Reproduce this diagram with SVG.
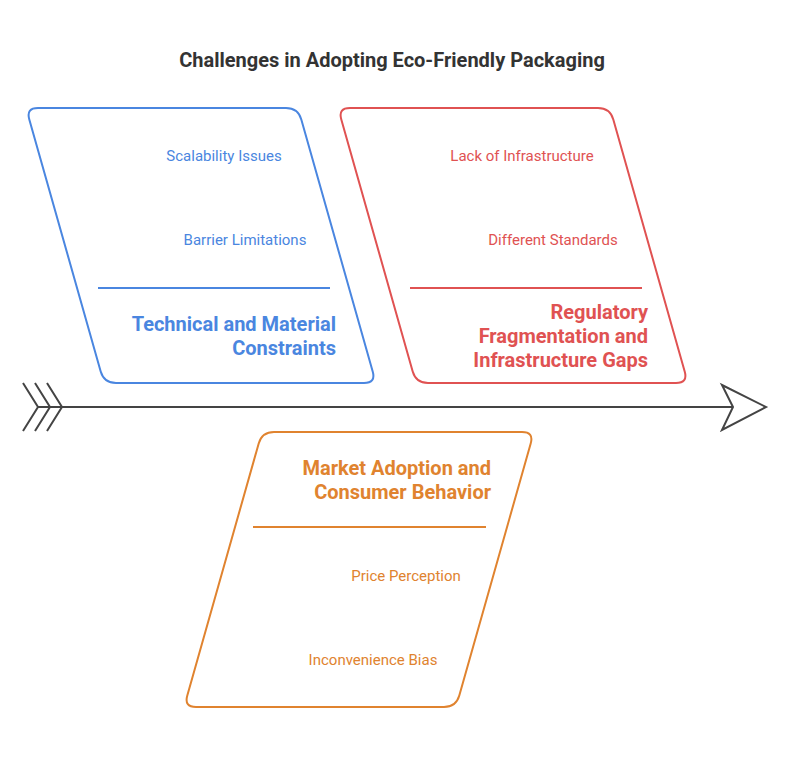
<svg xmlns="http://www.w3.org/2000/svg" width="790" height="757" viewBox="0 0 790 757">
<style>
.t{font-family:Roboto,"Liberation Sans",sans-serif}
.title{font-size:20px;font-weight:bold;fill:#333}
.h{font-size:20px;font-weight:bold;text-anchor:end}
.s{font-size:15px;text-anchor:middle}
.box{fill:#fff;stroke-width:2}
.blue{fill:#4a86e0}.red{fill:#e05252}.orange{fill:#e0832f}
</style>
<rect width="790" height="757" fill="#fff"/>
<text class="t title" x="392" y="67" text-anchor="middle">Challenges in Adopting Eco-Friendly Packaging</text>
<g id="connectors" stroke="#444" stroke-width="2" fill="none">
<line x1="38" y1="407" x2="733" y2="407"/>
<polyline points="23,383 38,407 23,431"/>
<polyline points="35,383 50,407 35,431"/>
<polyline points="47,383 62,407 47,431"/>
<polygon points="722,385 766,407 722,430 733,407" fill="#fff"/>
</g>
<g id="technical">
<path class="box" stroke="#4a86e0" d="M 38,108 L 286,108 Q 298,108 301.3,119.5 L 372.7,371.5 Q 376,383 364,383 L 116,383 Q 104,383 100.7,371.5 L 29.3,119.5 Q 26,108 38,108 Z"/>
<line x1="98" y1="288" x2="330" y2="288" stroke="#4a86e0" stroke-width="2"/>
<text class="t s blue" x="224" y="161">Scalability Issues</text>
<text class="t s blue" x="245" y="245">Barrier Limitations</text>
<text class="t h blue" x="336" y="331">Technical and Material</text>
<text class="t h blue" x="336" y="355">Constraints</text>
</g>
<g id="regulatory">
<path class="box" stroke="#e05252" d="M 350,108 L 598,108 Q 610,108 613.3,119.5 L 684.7,371.5 Q 688,383 676,383 L 428,383 Q 416,383 412.7,371.5 L 341.3,119.5 Q 338,108 350,108 Z"/>
<line x1="410" y1="288" x2="642" y2="288" stroke="#e05252" stroke-width="2"/>
<text class="t s red" x="522" y="161">Lack of Infrastructure</text>
<text class="t s red" x="553" y="245">Different Standards</text>
<text class="t h red" x="648" y="319">Regulatory</text>
<text class="t h red" x="648" y="343">Fragmentation and</text>
<text class="t h red" x="648" y="367">Infrastructure Gaps</text>
</g>
<g id="market">
<path class="box" stroke="#e0832f" d="M 274,432 L 522,432 Q 534,432 530.7,443.5 L 459.3,695.5 Q 456,707 444,707 L 196,707 Q 184,707 187.3,695.5 L 258.7,443.5 Q 262,432 274,432 Z"/>
<line x1="253" y1="527" x2="486" y2="527" stroke="#e0832f" stroke-width="2"/>
<text class="t h orange" x="491" y="475">Market Adoption and</text>
<text class="t h orange" x="491" y="499">Consumer Behavior</text>
<text class="t s orange" x="406" y="581">Price Perception</text>
<text class="t s orange" x="373" y="665">Inconvenience Bias</text>
</g>
</svg>
